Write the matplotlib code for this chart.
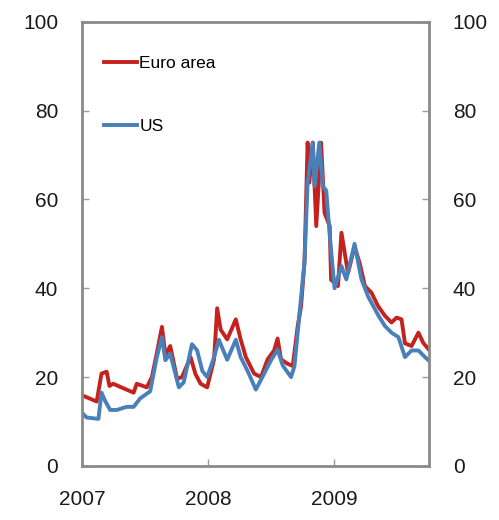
import pandas as pd
import matplotlib.pyplot as plt
import matplotlib.dates as mdates

plt.rcParams['font.family'] = ['Liberation Sans', 'DejaVu Sans']

# Euro area series
euro_dates = ['2007-01-05', '2007-02-13', '2007-02-27', '2007-03-14', '2007-03-22', '2007-04-02',
              '2007-05-01', '2007-05-31', '2007-06-09', '2007-07-08', '2007-07-23',
              '2007-08-06', '2007-08-21', '2007-08-31', '2007-09-14', '2007-10-04',
              '2007-10-18', '2007-11-12', '2007-11-26', '2007-12-11', '2007-12-30',
              '2008-01-19', '2008-01-28', '2008-02-07', '2008-02-26', '2008-03-22',
              '2008-04-05', '2008-04-20', '2008-05-14', '2008-06-03', '2008-06-22',
              '2008-07-11', '2008-07-21', '2008-07-31', '2008-08-19', '2008-09-03',
              '2008-09-17', '2008-09-27', '2008-10-07', '2008-10-16', '2008-10-21',
              '2008-10-31', '2008-11-10', '2008-11-24', '2008-12-04', '2008-12-19',
              '2008-12-23', '2009-01-12', '2009-01-22', '2009-02-10', '2009-03-01',
              '2009-03-16', '2009-03-31', '2009-04-19', '2009-05-08', '2009-05-28',
              '2009-06-16', '2009-07-01', '2009-07-15', '2009-07-25', '2009-08-13',
              '2009-09-02', '2009-09-16', '2009-10-01']
euro_vals = [15.8, 14.5, 20.8, 21.2, 18.0, 18.5, 17.5, 16.5, 18.5, 17.7, 20.0,
             25.3, 31.3, 25.0, 27.0, 19.6, 20.0, 24.5, 20.7, 18.5, 17.7,
             24.0, 35.5, 30.7, 28.5, 33.0, 28.5, 24.5, 20.8, 20.0, 24.0,
             26.0, 28.7, 24.0, 23.0, 22.5, 31.3, 36.0, 46.0, 72.8, 63.8,
             72.8, 54.0, 72.8, 57.0, 54.0, 41.9, 40.5, 52.5, 43.4, 49.4,
             45.6, 40.5, 39.0, 36.0, 33.8, 32.3, 33.4, 33.0, 27.6, 27.0,
             30.0, 27.7, 26.3]

# US series
us_dates = ['2007-01-05', '2007-01-15', '2007-02-18', '2007-02-27', '2007-03-09',
            '2007-03-24', '2007-04-12', '2007-05-11', '2007-05-31', '2007-06-19',
            '2007-07-18', '2007-08-06', '2007-08-21', '2007-08-31', '2007-09-14',
            '2007-10-09', '2007-10-23', '2007-11-16', '2007-12-01', '2007-12-16',
            '2007-12-30', '2008-01-19', '2008-02-02', '2008-02-26', '2008-03-22',
            '2008-04-05', '2008-04-25', '2008-05-19', '2008-06-07', '2008-07-02',
            '2008-07-21', '2008-08-05', '2008-08-29', '2008-09-08', '2008-09-22',
            '2008-10-07', '2008-10-16', '2008-10-31', '2008-11-05', '2008-11-19',
            '2008-11-29', '2008-12-09', '2008-12-19', '2009-01-02', '2009-01-22',
            '2009-02-05', '2009-03-01', '2009-03-21', '2009-04-09', '2009-05-08',
            '2009-05-28', '2009-06-16', '2009-07-06', '2009-07-25', '2009-08-13',
            '2009-09-02', '2009-09-21', '2009-10-01']
us_vals = [11.7, 10.9, 10.6, 16.5, 14.7, 12.6, 12.6, 13.3, 13.3, 15.2,
           16.8, 24.4, 29.0, 23.8, 25.3, 17.7, 18.8, 27.4, 26.0, 21.4,
           20.0, 24.5, 28.4, 23.9, 28.4, 24.5, 21.4, 17.2, 20.0, 23.8,
           26.2, 22.6, 20.0, 22.5, 33.9, 46.0, 63.8, 72.8, 63.0, 72.8,
           63.0, 62.0, 52.0, 40.0, 45.0, 42.0, 50.0, 42.0, 38.2, 34.0,
           31.5, 30.0, 29.0, 24.5, 26.0, 26.0, 24.5, 23.8]

yticks = [0, 20, 40, 60, 80, 100]

euro = pd.Series(euro_vals, index=pd.to_datetime(euro_dates))
us = pd.Series(us_vals, index=pd.to_datetime(us_dates))

fig = plt.figure(figsize=(4.99, 5.20), dpi=100)
ax = fig.add_axes([0.164, 0.104, 0.696, 0.854])

ax.plot(euro.index, euro.values, color='#C4221F', lw=2.8, label='Euro area')
ax.plot(us.index, us.values, color='#4A80BA', lw=2.8, label='US')

ax.set_ylim(0, 100)
ax.set_yticks(yticks)
ax.set_xlim(pd.Timestamp('2007-01-01'), pd.Timestamp('2009-10-03'))
ax.xaxis.set_major_locator(mdates.YearLocator())
ax.xaxis.set_major_formatter(mdates.DateFormatter('%Y'))

for s in ax.spines.values():
    s.set_color('#8a8a8a')
    s.set_linewidth(2.0)
ax.tick_params(axis='both', direction='in', length=5, width=1, color='#9a9a9a',
               labelsize=15, labelcolor='#1a1a1a')
ax.tick_params(axis='y', right=True, labelright=True, pad=17)
ax.tick_params(axis='x', pad=17)

ax.legend(loc='upper left', bbox_to_anchor=(0.02, 0.959), frameon=False,
          fontsize=12.5, handlelength=1.9, handletextpad=0.1, labelspacing=2.75)

plt.savefig('out.png', dpi=100)
